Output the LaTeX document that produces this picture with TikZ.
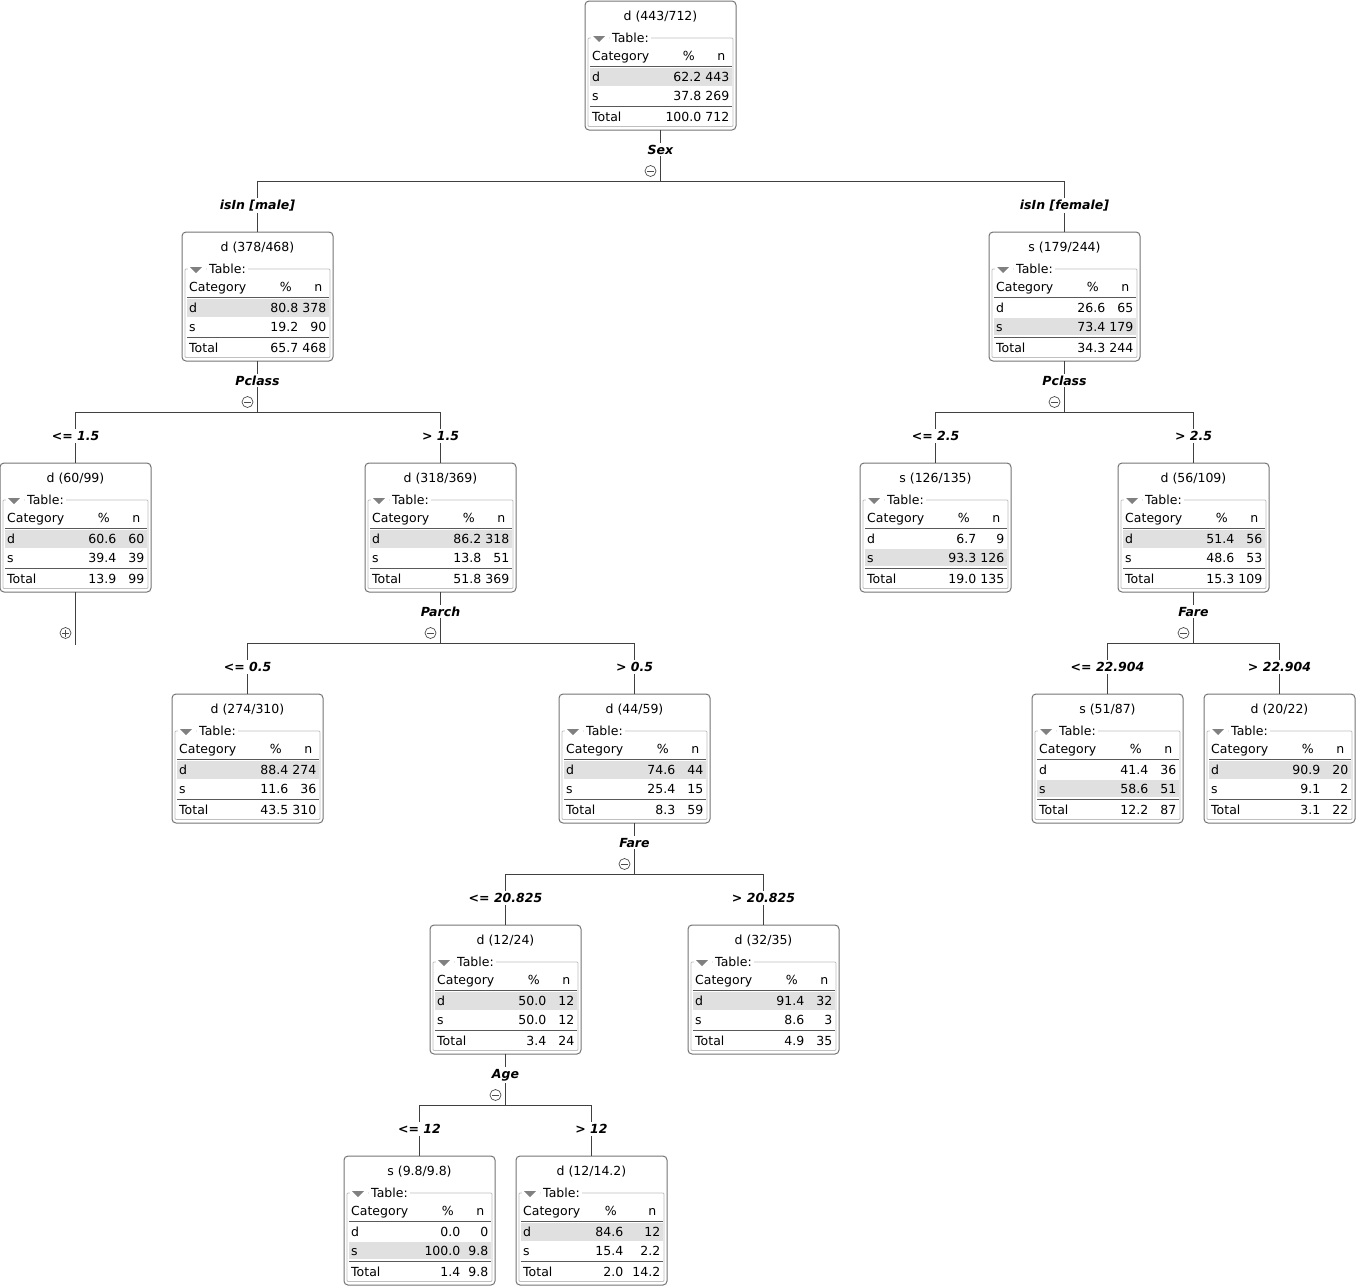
\documentclass[tikz,border=0pt]{standalone}
\usepackage{fontspec}
\setmainfont{DejaVu Sans}
\tikzset{
 box/.style={draw=black!55, line width=1pt, rounded corners=4pt, minimum width=151pt, minimum height=129pt, inner sep=0pt, outer sep=0pt},
 txt/.style={font=\fontsize{12.5}{15}\selectfont, inner sep=0pt, text=black},
 lab/.style={font=\fontsize{12.5}{15}\selectfont\bfseries\itshape, fill=white, inner xsep=1pt, inner ysep=2pt, anchor=base, text=black},
 conn/.style={draw=black!75, line width=0.9pt},
 grp/.style={draw=black!25, line width=0.8pt, rounded corners=1pt},
 hl/.style={fill=black!12},
 rule/.style={draw=black!65, line width=0.9pt},
 tri/.style={fill=black!50},
 circ/.style={draw=black!70, line width=0.7pt},
}
\newcommand\tnode[5]{%
 \node[box] (#1) at (#2,{#3+64.5}) {};
 \begin{scope}[shift={(#1.north west)}]
 \fill[hl] (5,{67+19*#5}) rectangle (147,{85+18*#5});
 \node[txt,anchor=base] (#1-title) at (75.5,19.5) {#4};
 \draw[grp] (3,37) rectangle (148,125.5);
 \fill[white] (6,32) rectangle (24,43);
 \fill[tri] (8,35) -- (20,35) -- (14,41) -- cycle;
 \node[txt,anchor=base west,fill=white,inner xsep=2pt,inner ysep=1pt] (#1-tab) at (25,41.5) {Table:};
 \draw[rule] (5,65) -- (147,65);
 \draw[rule] (5,105) -- (147,105);
 \end{scope}}
\newcommand\trows[8][116.5]{%
 \begin{scope}[shift={(#2.north west)}]
 \node[txt,anchor=base west] (#2-hc) at (7,59.5) {Category};
 \node[txt,anchor=base east] (#2-hp) at ({#1-6.5},59.5) {\%};
 \node[txt,anchor=base east] (#2-hn) at (140.5,59.5) {n};
 \node[txt,anchor=base west] (#2-dc) at (7,80.5) {d};
 \node[txt,anchor=base east] (#2-dp) at (#1,80.5) {#3};
 \node[txt,anchor=base east] (#2-dn) at (144.5,80.5) {#4};
 \node[txt,anchor=base west] (#2-sc) at (7,99) {s};
 \node[txt,anchor=base east] (#2-sp) at (#1,99) {#5};
 \node[txt,anchor=base east] (#2-sn) at (144.5,99) {#6};
 \node[txt,anchor=base west] (#2-tc) at (7,120.5) {Total};
 \node[txt,anchor=base east] (#2-tp) at (#1,120.5) {#7};
 \node[txt,anchor=base east] (#2-tn) at (144.5,120.5) {#8};
 \end{scope}}
% split: parent name, cx, top, attribute
\newcommand\tsplit[4]{%
 \coordinate (#1-bar) at (#2,{#3+180});
 \draw[conn] (#1.south) -- (#1-bar);
 \node[lab] (#1-attr) at (#2,{#3+153}) {#4};
 \draw[circ] ({#2-10},{#3+170}) circle (5.5);
 \draw[circ] ({#2-13.5},{#3+170}) -- ({#2-6.5},{#3+170});}
% edge: parent, child, child cx, child top, label
\newcommand\tedge[5]{%
 \draw[conn] (#1-bar) -| (#2.north);
 \node[lab] (#2-lab) at (#3,{#4-22.5}) {#5};}
\begin{document}
\begin{tikzpicture}[x=1pt,y=-1pt]
\useasboundingbox (0,0) rectangle (1356,1286);
% nodes
\tnode{root}{660.5}{1}{d (443/712)}{0}
\trows{root}{62.2}{443}{37.8}{269}{100.0}{712}
\tnode{male}{257.5}{232}{d (378/468)}{0}
\trows{male}{80.8}{378}{19.2}{90}{65.7}{468}
\tnode{female}{1064.5}{232}{s (179/244)}{1}
\trows{female}{26.6}{65}{73.4}{179}{34.3}{244}
\tnode{na}{75.5}{463}{d (60/99)}{0}
\trows{na}{60.6}{60}{39.4}{39}{13.9}{99}
\tnode{nb}{440.5}{463}{d (318/369)}{0}
\trows{nb}{86.2}{318}{13.8}{51}{51.8}{369}
\tnode{nc}{935.5}{463}{s (126/135)}{1}
\trows{nc}{6.7}{9}{93.3}{126}{19.0}{135}
\tnode{nd}{1193.5}{463}{d (56/109)}{0}
\trows{nd}{51.4}{56}{48.6}{53}{15.3}{109}
\tnode{ne}{247.5}{694}{d (274/310)}{0}
\trows{ne}{88.4}{274}{11.6}{36}{43.5}{310}
\tnode{nf}{634.5}{694}{d (44/59)}{0}
\trows{nf}{74.6}{44}{25.4}{15}{8.3}{59}
\tnode{ng}{1107.5}{694}{s (51/87)}{1}
\trows{ng}{41.4}{36}{58.6}{51}{12.2}{87}
\tnode{nh}{1279.5}{694}{d (20/22)}{0}
\trows{nh}{90.9}{20}{9.1}{2}{3.1}{22}
\tnode{ni}{505.5}{925}{d (12/24)}{0}
\trows{ni}{50.0}{12}{50.0}{12}{3.4}{24}
\tnode{nj}{763.5}{925}{d (32/35)}{0}
\trows{nj}{91.4}{32}{8.6}{3}{4.9}{35}
\tnode{nk}{419.5}{1156}{s (9.8/9.8)}{1}
\trows{nk}{0.0}{0}{100.0}{9.8}{1.4}{9.8}
\tnode{nl}{591.5}{1156}{d (12/14.2)}{0}
\trows[107.5]{nl}{84.6}{12}{15.4}{2.2}{2.0}{14.2}
% splits
\tsplit{root}{660.5}{1}{Sex}
\tedge{root}{male}{257.5}{232}{isIn [male]}
\tedge{root}{female}{1064.5}{232}{isIn [female]}
\tsplit{male}{257.5}{232}{Pclass}
\tedge{male}{na}{75.5}{463}{<= 1.5}
\tedge{male}{nb}{440.5}{463}{> 1.5}
\tsplit{female}{1064.5}{232}{Pclass}
\tedge{female}{nc}{935.5}{463}{<= 2.5}
\tedge{female}{nd}{1193.5}{463}{> 2.5}
\tsplit{nb}{440.5}{463}{Parch}
\tedge{nb}{ne}{247.5}{694}{<= 0.5}
\tedge{nb}{nf}{634.5}{694}{> 0.5}
\tsplit{nd}{1193.5}{463}{Fare}
\tedge{nd}{ng}{1107.5}{694}{<= 22.904}
\tedge{nd}{nh}{1279.5}{694}{> 22.904}
\tsplit{nf}{634.5}{694}{Fare}
\tedge{nf}{ni}{505.5}{925}{<= 20.825}
\tedge{nf}{nj}{763.5}{925}{> 20.825}
\tsplit{ni}{505.5}{925}{Age}
\tedge{ni}{nk}{419.5}{1156}{<= 12}
\tedge{ni}{nl}{591.5}{1156}{> 12}
% collapsed branch
\coordinate (na-end) at (75.5,645);
\draw[conn] (na.south) -- (na-end);
\draw[circ] (65.5,633) circle (5.5);
\draw[circ] (62,633) -- (69,633);
\draw[circ] (65.5,629.5) -- (65.5,636.5);
\end{tikzpicture}
\end{document}
